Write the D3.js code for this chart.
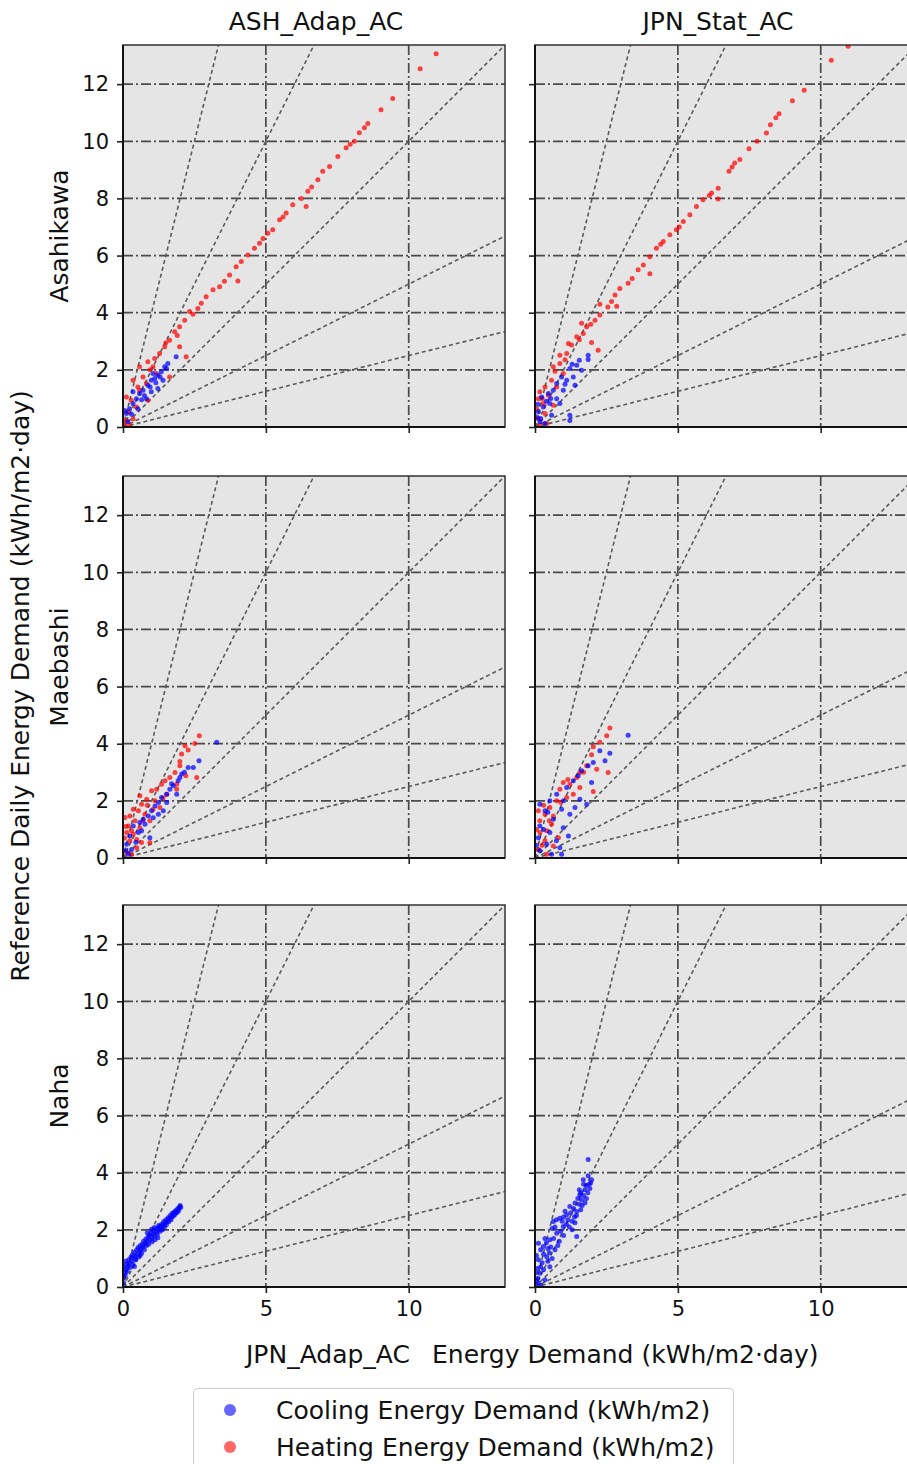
<!DOCTYPE html>
<html>
<head>
<meta charset="utf-8">
<script src="https://cdn.jsdelivr.net/npm/d3@7"></script>
<style>
  html, body { margin: 0; padding: 0; background: #fff; }
  svg { display: block; font-family: "DejaVu Sans", sans-serif; }
</style>
</head>
<body>
<svg id="chart" width="907" height="1464"></svg>
<script>
// ---------------- DATA ----------------
const columns = ["ASH_Adap_AC", "JPN_Stat_AC"];
const rows = ["Asahikawa", "Maebashi", "Naha"];
const xTicks = [0, 5, 10];
const yTicks = [0, 2, 4, 6, 8, 10, 12];
const refSlopes = [4, 2, 1, 0.5, 0.25];
const seriesNames = ["Cooling Energy Demand (kWh/m2)", "Heating Energy Demand (kWh/m2)"];
const xLabelA = "JPN_Adap_AC";
const xLabelB = "Energy Demand (kWh/m2\u00b7day)";
const yLabel = "Reference Daily Energy Demand (kWh/m2\u00b7day)";

// Asahikawa, ASH_Adap_AC
const asaAshHeat = [[10.96,13.06],[10.4,12.54],[9.44,11.5],[9.03,11.1],[8.57,10.62],[8.45,10.47],[8.27,10.3],[8.1,10.0],[7.81,9.77],[7.52,9.47],[7.23,9.12],[6.99,8.95],[6.82,8.65],[6.47,8.25],[6.41,7.72],[6.24,8.0],[5.94,7.78],[5.71,7.49],[5.48,7.25],[5.24,6.9],[5.07,6.78],[4.78,6.43],[4.6,6.26],[4.37,6.02],[4.14,5.79],[3.96,5.61],[4.02,5.11],[3.73,5.32],[3.38,4.91],[3.15,4.8],[2.91,4.56],[2.74,4.33],[2.62,4.15],[2.33,4.04],[2.16,3.74],[1.98,3.51],[1.81,3.33],[1.63,3.04],[1.98,2.81],[1.46,2.81],[1.28,2.57],[2.21,2.46],[1.11,2.4],[0.87,2.28],[0.58,2.11],[1.05,2.11],[1.63,1.75],[0.7,1.75],[0.35,1.64],[0.82,1.52],[0.58,1.29],[0.12,1.05],[0.29,0.94],[0.47,0.7],[0.17,0.53],[0.35,0.29],[0.12,0.23],[0.23,0.06],[0.06,0.12],[0.52,1.4],[0.87,0.94],[1.17,1.87],[5.6,7.35],[6.6,8.4],[7.95,9.9],[4.9,6.6],[3.55,5.1],[2.45,3.95],[1.9,3.2],[1.5,2.95],[0.95,2.0]];
const asaAshCool = [[1.86,2.46],[1.57,2.22],[1.46,2.11],[1.34,1.93],[1.22,1.81],[1.11,1.7],[0.99,1.64],[0.87,1.46],[0.7,1.29],[0.58,1.17],[0.47,0.99],[0.35,0.82],[0.23,0.64],[0.12,0.47],[0.06,0.58],[1.22,1.35],[0.99,1.23],[0.82,0.99],[0.52,0.64],[1.4,1.64],[0.17,0.18],[0.35,1.23],[1.05,1.87],[1.52,2.05],[1.3,1.75],[1.15,1.55],[0.75,1.1],[0.65,0.95],[0.3,0.45],[0.95,1.4]];

// Asahikawa, JPN_Stat_AC
const asaStatHeat = [[10.96,13.33],[10.37,12.84],[9.42,11.79],[9.01,11.42],[8.54,10.96],[8.43,10.82],[8.24,10.58],[8.1,10.29],[7.77,10.0],[7.49,9.74],[7.17,9.36],[6.99,9.24],[6.79,8.95],[6.41,8.36],[6.41,7.98],[6.18,8.19],[5.88,7.95],[5.65,7.72],[5.42,7.43],[5.19,7.19],[4.95,6.9],[4.72,6.73],[4.49,6.49],[4.25,6.26],[4.02,5.96],[4.02,5.36],[3.79,5.67],[3.61,5.5],[3.26,5.03],[2.97,4.85],[2.8,4.62],[2.68,4.39],[2.86,4.23],[2.27,4.3],[2.27,3.92],[2.1,3.74],[1.81,3.51],[1.69,3.27],[1.46,3.16],[1.98,2.96],[2.21,2.69],[1.28,2.87],[1.11,2.57],[0.87,2.51],[0.87,2.22],[0.64,2.11],[0.99,1.87],[0.58,1.64],[0.35,1.4],[0.76,1.4],[0.17,1.23],[0.47,1.11],[0.12,0.99],[0.29,0.82],[0.64,0.76],[0.06,0.64],[0.35,0.47],[0.12,0.29],[0.41,0.12],[0.17,0.06],[1.17,2.92],[1.63,3.63],[5.05,7.0],[6.1,8.1],[6.9,9.1],[4.4,6.4],[3.4,5.2],[2.55,4.2],[1.95,3.6],[1.55,3.05],[0.7,1.95],[1.05,2.35],[0.25,1.0]];
const asaStatCool = [[1.86,2.51],[1.86,2.36],[1.55,2.34],[1.63,1.99],[1.46,2.16],[1.22,2.05],[1.34,1.75],[1.11,1.64],[0.93,1.75],[0.76,1.52],[0.99,1.29],[0.64,1.29],[0.47,1.17],[0.76,0.99],[0.52,0.82],[0.23,1.05],[0.29,0.7],[0.12,0.53],[0.58,0.41],[1.22,0.41],[1.22,0.23],[0.17,0.18],[0.35,0.12],[0.06,0.35],[1.4,1.46],[0.87,0.82],[1.05,1.5],[0.4,0.9],[0.2,0.3],[1.3,2.2],[0.55,1.0],[0.1,0.8]];

// Maebashi, ASH_Adap_AC
const maeAshHeat = [[2.67,4.28],[2.51,4.01],[2.17,3.93],[2.28,3.78],[2.05,3.64],[1.99,3.38],[1.99,3.23],[2.58,2.82],[2.2,2.88],[1.82,2.99],[1.64,2.82],[1.47,2.7],[1.35,2.58],[1.18,2.41],[1.0,2.35],[0.59,2.18],[0.83,2.06],[0.65,1.88],[0.36,1.71],[0.54,1.65],[0.24,1.47],[0.07,1.42],[0.42,1.3],[0.19,1.12],[0.59,1.06],[0.13,0.89],[0.36,0.83],[0.24,0.6],[0.65,0.54],[0.48,0.36],[0.13,0.19],[0.3,0.13],[0.94,1.3],[1.29,1.77],[1.53,2.23],[1.88,2.58],[1.12,2.0],[0.77,1.53],[0.48,0.65],[0.94,0.54],[1.88,2.41],[0.05,0.7],[0.1,1.1],[0.7,1.3],[1.05,1.7],[1.4,2.1],[0.3,0.95],[0.85,1.85]];
const maeAshCool = [[3.28,4.05],[2.66,3.4],[2.46,3.17],[2.28,3.17],[2.05,2.94],[1.93,2.7],[1.76,2.53],[1.64,2.41],[1.53,2.23],[1.35,2.12],[1.24,1.94],[1.12,1.82],[1.0,1.65],[0.89,1.47],[0.71,1.36],[0.59,1.24],[0.36,1.12],[0.94,0.71],[0.54,0.89],[0.24,0.77],[0.13,0.48],[0.3,0.3],[0.19,0.13],[1.41,1.65],[1.88,2.23],[1.24,1.53],[0.77,1.18],[1.53,1.94],[1.99,2.82],[1.06,1.41],[2.15,3.0],[1.7,2.6],[0.45,0.55],[0.1,0.25],[0.65,0.95]];

// Maebashi, JPN_Stat_AC
const maeStatHeat = [[2.62,4.55],[2.51,4.28],[2.27,4.05],[2.04,3.89],[1.98,3.61],[2.16,3.11],[2.56,2.99],[2.04,2.33],[1.81,3.23],[1.57,2.99],[1.46,2.82],[1.22,2.58],[0.99,2.64],[0.87,2.41],[1.11,2.12],[0.76,2.0],[0.52,1.77],[0.35,1.53],[0.12,1.65],[0.64,1.47],[0.17,1.3],[0.58,1.18],[0.41,0.95],[0.17,0.89],[0.82,0.71],[0.35,0.6],[0.64,0.42],[0.12,0.3],[0.41,0.13],[1.34,2.23],[1.57,2.47],[0.3,1.85],[0.05,1.0],[0.9,1.95],[1.7,3.0],[0.25,0.45],[0.5,1.3],[1.15,2.75]];
const maeStatCool = [[3.26,4.3],[2.27,3.75],[2.62,3.67],[2.45,3.4],[2.04,3.34],[1.86,3.23],[1.98,2.64],[1.63,3.05],[1.51,2.88],[1.34,2.7],[1.11,2.47],[1.57,2.06],[1.81,1.88],[0.76,2.23],[0.52,2.0],[0.17,1.88],[0.35,1.65],[0.93,1.71],[1.22,1.53],[0.64,1.36],[0.17,1.12],[0.99,1.06],[0.52,0.89],[1.17,0.77],[0.12,0.71],[0.41,0.48],[0.87,0.36],[0.93,0.13],[0.58,0.13],[0.17,0.25],[1.4,1.77],[0.05,0.45],[0.3,1.0],[0.75,0.6],[1.0,2.0],[0.45,1.6]];

// Naha, ASH_Adap_AC
const nahAshCool = [[0.02,0.15],[0.03,0.35],[0.05,0.5],[0.04,0.7],[0.08,0.42],[0.1,0.62],[0.12,0.8],[0.09,0.9],[0.15,0.55],[0.18,0.72],[0.2,0.95],[0.22,0.83],[0.25,0.68],[0.28,1.05],[0.3,0.9],[0.33,1.12],[0.35,0.8],[0.38,1.0],[0.4,1.22],[0.42,1.08],[0.45,0.95],[0.48,1.3],[0.5,1.15],[0.53,1.38],[0.55,1.05],[0.58,1.25],[0.6,1.45],[0.62,1.32],[0.65,1.18],[0.68,1.5],[0.7,1.4],[0.72,1.6],[0.75,1.3],[0.78,1.52],[0.8,1.68],[0.82,1.45],[0.85,1.6],[0.88,1.75],[0.9,1.5],[0.92,1.82],[0.95,1.65],[0.98,1.9],[1.0,1.72],[1.02,1.58],[1.05,1.85],[1.08,1.98],[1.1,1.78],[1.12,1.65],[1.15,1.92],[1.18,2.05],[1.2,1.85],[1.22,1.72],[1.25,2.0],[1.28,2.12],[1.3,1.95],[1.32,2.05],[1.35,2.2],[1.38,2.0],[1.4,2.15],[1.42,2.28],[1.45,2.1],[1.48,2.25],[1.5,2.35],[1.52,2.18],[1.55,2.3],[1.58,2.42],[1.6,2.28],[1.62,2.38],[1.65,2.5],[1.68,2.35],[1.7,2.45],[1.72,2.58],[1.75,2.48],[1.78,2.6],[1.8,2.52],[1.82,2.65],[1.85,2.58],[1.88,2.7],[1.9,2.62],[1.93,2.75],[1.95,2.68],[1.98,2.8],[2.0,2.85],[2.02,2.78],[1.0,2.02],[0.85,1.9],[1.1,2.08],[1.25,2.15],[0.6,1.1],[0.4,0.72]];

// Naha, JPN_Stat_AC
const nahStatCool = [[1.86,4.46],[1.86,3.89],[1.98,3.75],[1.69,3.75],[1.9,3.6],[1.8,3.55],[1.75,3.4],[1.92,3.45],[1.6,3.3],[1.57,3.23],[1.7,3.2],[1.85,3.3],[1.63,3.05],[1.5,3.1],[1.4,2.94],[1.55,2.9],[1.75,2.95],[1.22,2.82],[1.35,2.75],[1.46,2.64],[1.6,2.7],[1.11,2.53],[1.25,2.6],[1.38,2.45],[0.87,2.41],[1.0,2.45],[1.15,2.35],[0.64,2.29],[0.75,2.35],[0.99,2.12],[1.1,2.2],[1.3,2.3],[1.46,1.77],[1.3,2.0],[0.76,1.88],[0.9,1.95],[0.6,2.05],[0.52,1.65],[0.65,1.7],[0.85,1.6],[1.0,1.8],[0.29,1.42],[0.4,1.55],[0.12,1.53],[0.2,1.3],[0.7,1.3],[0.55,1.4],[0.41,1.06],[0.3,1.15],[0.12,0.95],[0.05,1.1],[0.25,0.85],[0.52,0.71],[0.45,0.9],[0.17,0.48],[0.08,0.65],[0.3,0.6],[0.35,0.25],[0.1,0.3],[0.12,0.13],[0.2,0.05],[0.05,0.2],[0.03,0.5],[0.6,1.0],[0.8,1.45],[1.2,2.1],[1.45,2.5],[1.65,2.85],[1.8,3.1],[0.95,2.3],[1.05,2.65],[0.7,2.1],[1.55,3.4],[1.7,3.6],[1.4,2.25],[0.5,1.2],[0.35,1.7],[0.2,0.7],[0.45,1.35],[1.95,3.65]];

const panelData = [
  [{heat: asaAshHeat, cool: asaAshCool}, {heat: asaStatHeat, cool: asaStatCool}],
  [{heat: maeAshHeat, cool: maeAshCool}, {heat: maeStatHeat, cool: maeStatCool}],
  [{heat: [], cool: nahAshCool}, {heat: [], cool: nahStatCool}]
];

// ---------------- LAYOUT ----------------
const svg = d3.select("#chart");
const W = 382, H = 382;
const colX = [123, 535];
const rowY = [45, 476, 905];
const dmax = 13.37;
const x = d3.scaleLinear().domain([0, dmax]).range([0, W]);
const y = d3.scaleLinear().domain([0, dmax]).range([H, 0]);
const COOL = "#0000ff", HEAT = "#ff0000";

const defs = svg.append("defs");
defs.append("clipPath").attr("id", "clip").append("rect").attr("width", W).attr("height", H);

rows.forEach((rname, ri) => {
  columns.forEach((cname, ci) => {
    const g = svg.append("g").attr("transform", `translate(${colX[ci]},${rowY[ri]})`);
    g.append("rect").attr("width", W).attr("height", H).attr("fill", "#e5e5e5");
    const inner = g.append("g").attr("clip-path", "url(#clip)");
    // grid
    inner.selectAll(".gx").data(xTicks).join("line")
      .attr("x1", d => x(d)).attr("x2", d => x(d)).attr("y1", 0).attr("y2", H)
      .attr("stroke", "#4a4a4a").attr("stroke-width", 1.7).attr("stroke-dasharray", "10,3,2,3");
    inner.selectAll(".gy").data(yTicks).join("line")
      .attr("y1", d => y(d)).attr("y2", d => y(d)).attr("x1", 0).attr("x2", W)
      .attr("stroke", "#4a4a4a").attr("stroke-width", 1.7).attr("stroke-dasharray", "10,3,2,3");
    // reference lines
    inner.selectAll(".ref").data(refSlopes).join("line")
      .attr("x1", x(0)).attr("y1", y(0))
      .attr("x2", d => x(dmax * 1.2)).attr("y2", d => y(dmax * 1.2 * d))
      .attr("stroke", "#5a5a5a").attr("stroke-width", 1.6).attr("stroke-dasharray", "4,3");
    // points
    const pd = panelData[ri][ci];
    inner.selectAll(".ph").data(pd.heat).join("circle")
      .attr("cx", d => x(d[0])).attr("cy", d => y(d[1])).attr("r", 2.5)
      .attr("fill", HEAT).attr("fill-opacity", 0.72);
    inner.selectAll(".pc").data(pd.cool).join("circle")
      .attr("cx", d => x(d[0])).attr("cy", d => y(d[1])).attr("r", 2.5)
      .attr("fill", COOL).attr("fill-opacity", 0.72);
    // frame
    g.append("rect").attr("width", W).attr("height", H).attr("fill", "none")
      .attr("stroke", "#333").attr("stroke-width", 1.5);
    g.append("line").attr("x1", 0).attr("x2", 0).attr("y1", 0).attr("y2", H)
      .attr("stroke", "#111").attr("stroke-width", 2);
    g.append("line").attr("x1", 0).attr("x2", W).attr("y1", H).attr("y2", H)
      .attr("stroke", "#111").attr("stroke-width", 2);
    // axes
    const ax = d3.axisBottom(x).tickValues(xTicks).tickSize(6).tickSizeOuter(0)
      .tickFormat(ri === rows.length - 1 ? d3.format("d") : "");
    const xg = g.append("g").attr("transform", `translate(0,${H})`).call(ax);
    const ay = d3.axisLeft(y).tickValues(yTicks).tickSize(6).tickSizeOuter(0)
      .tickFormat(ci === 0 ? d3.format("d") : "");
    const yg = g.append("g").call(ay);
    [xg, yg].forEach(a => {
      a.select(".domain").remove();
      a.selectAll(".tick line").attr("stroke", "#222").attr("stroke-width", 1.6);
      a.selectAll(".tick text").attr("fill", "#111").style("font-size", "21px")
        .style("font-family", "DejaVu Sans, sans-serif");
    });
    xg.selectAll(".tick text").attr("y", 14).attr("dy", "0.71em");
    yg.selectAll(".tick text").attr("x", -14);
  });
});

// column titles
const titleX = [316, 718];
columns.forEach((c, i) => {
  svg.append("text").attr("x", titleX[i]).attr("y", 30).attr("text-anchor", "middle")
    .style("font-size", "25px").attr("fill", "#111").text(c);
});
// row labels
rows.forEach((r, i) => {
  const cy = rowY[i] + H / 2;
  svg.append("text").attr("transform", `translate(68,${cy}) rotate(-90)`)
    .attr("text-anchor", "middle").style("font-size", "25px").attr("fill", "#111").text(r);
});
// y label
svg.append("text").attr("transform", "translate(29,686) rotate(-90)")
  .attr("text-anchor", "middle").style("font-size", "25px").attr("fill", "#111").text(yLabel);
// x label
svg.append("text").attr("x", 246).attr("y", 1363).style("font-size", "25px").attr("fill", "#111").text(xLabelA);
svg.append("text").attr("x", 432).attr("y", 1363).style("font-size", "25px").attr("fill", "#111").text(xLabelB);

// legend
const lg = svg.append("g");
lg.append("rect").attr("x", 193.5).attr("y", 1388.5).attr("width", 540).attr("height", 90)
  .attr("rx", 4).attr("fill", "#fff").attr("stroke", "#ccc").attr("stroke-width", 1);
const legendItems = [{name: seriesNames[0], color: COOL}, {name: seriesNames[1], color: HEAT}];
legendItems.forEach((it, i) => {
  const cy = 1410 + i * 37;
  lg.append("circle").attr("cx", 230).attr("cy", cy).attr("r", 6)
    .attr("fill", it.color).attr("fill-opacity", 0.6);
  lg.append("text").attr("x", 276).attr("y", cy + 9).style("font-size", "25px")
    .attr("fill", "#111").text(it.name);
});
</script>
</body>
</html>
